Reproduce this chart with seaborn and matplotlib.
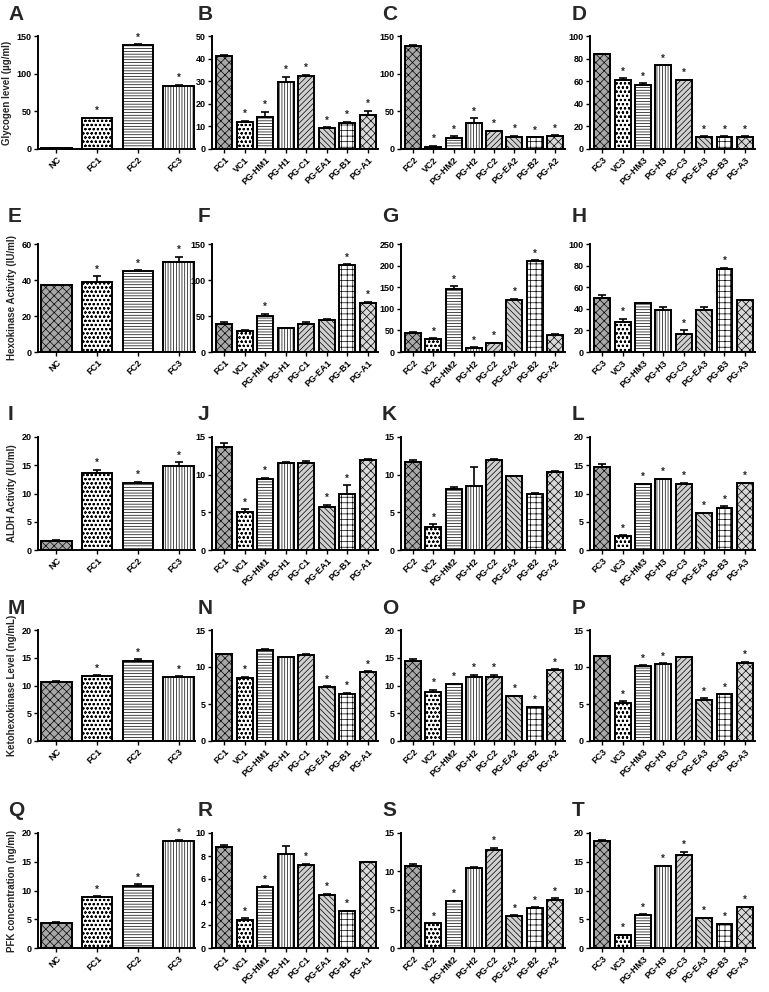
import matplotlib
matplotlib.use('Agg')
import matplotlib.pyplot as plt
import seaborn as sns

# group labels
grp_base = ['NC', 'FC1', 'FC2', 'FC3']
grp_1 = ['FC1', 'VC1', 'PG-HM1', 'PG-H1', 'PG-C1', 'PG-EA1', 'PG-B1', 'PG-A1']
grp_2 = ['FC2', 'VC2', 'PG-HM2', 'PG-H2', 'PG-C2', 'PG-EA2', 'PG-B2', 'PG-A2']
grp_3 = ['FC3', 'VC3', 'PG-HM3', 'PG-H3', 'PG-C3', 'PG-EA3', 'PG-B3', 'PG-A3']

# glycogen
a_val = [1.5, 41, 138, 84];  a_err = [0.3, 0.8, 0.8, 1];  a_sig = [0, 1, 1, 1]
b_val = [41, 12, 14, 29.5, 32.5, 9.5, 11.5, 15]
b_err = [0.5, 0.5, 2.5, 2.5, 0.3, 0.2, 0.5, 2]
b_sig = [0, 1, 1, 1, 1, 1, 1, 1]
c_val = [137, 3, 15, 34, 24, 16, 15.5, 17.5]
c_err = [0.5, 1, 2, 7, 0.5, 1.5, 0.3, 1]
c_sig = [0, 1, 1, 1, 1, 1, 1, 1]
d_val = [84, 61, 57, 74, 61, 11, 11, 11]
d_err = [0.5, 1.5, 1, 0.3, 0.5, 0.2, 0.2, 0.2]
d_sig = [0, 1, 1, 1, 1, 1, 1, 1]

# hexokinase
e_val = [37, 39, 45, 50];  e_err = [0.3, 3, 0.3, 3];  e_sig = [0, 1, 1, 1]
f_val = [39, 29, 50, 33, 39, 45, 121, 68]
f_err = [3, 2, 3, 0.3, 3, 0.3, 1, 1.5]
f_sig = [0, 0, 1, 0, 0, 0, 1, 1]
g_val = [45, 29, 145, 10, 21, 121, 211, 39]
g_err = [0.5, 3, 7, 0.5, 0.5, 2, 2, 3]
g_sig = [0, 1, 1, 1, 1, 1, 1, 0]
h_val = [50, 28, 45, 39, 17, 39, 77, 48]
h_err = [3, 3, 0.3, 3, 3, 3, 1, 0.5]
h_sig = [0, 1, 0, 0, 1, 0, 1, 0]

# ALDH
i_val = [1.6, 13.7, 11.8, 14.8];  i_err = [0.1, 0.5, 0.3, 0.7];  i_sig = [0, 1, 1, 1]
j_val = [13.7, 5.1, 9.4, 11.6, 11.6, 5.7, 7.5, 11.9]
j_err = [0.5, 0.3, 0.2, 0.05, 0.2, 0.3, 1.1, 0.2]
j_sig = [0, 1, 1, 0, 0, 1, 1, 0]
k_val = [11.7, 3.0, 8.1, 8.5, 11.9, 9.8, 7.5, 10.3]
k_err = [0.3, 0.4, 0.2, 2.5, 0.2, 0.05, 0.05, 0.2]
k_sig = [0, 1, 0, 0, 0, 0, 0, 0]
l_val = [14.7, 2.5, 11.6, 12.5, 11.7, 6.5, 7.5, 11.8]
l_err = [0.6, 0.1, 0.1, 0.1, 0.2, 0.1, 0.2, 0.1]
l_sig = [0, 1, 1, 1, 1, 1, 1, 1]

# ketohexokinase
m_val = [10.6, 11.8, 14.5, 11.6];  m_err = [0.2, 0.05, 0.2, 0.05];  m_sig = [0, 1, 1, 1]
n_val = [11.7, 8.5, 12.3, 11.3, 11.6, 7.3, 6.4, 9.3]
n_err = [0.05, 0.2, 0.2, 0.05, 0.2, 0.1, 0.1, 0.1]
n_sig = [0, 1, 0, 0, 0, 1, 1, 1]
o_val = [14.5, 8.9, 10.3, 11.6, 11.6, 8.1, 6.1, 12.8]
o_err = [0.2, 0.3, 0.05, 0.3, 0.3, 0.05, 0.05, 0.1]
o_sig = [0, 1, 1, 1, 1, 1, 1, 1]
p_val = [11.5, 5.1, 10.2, 10.4, 11.3, 5.6, 6.3, 10.6]
p_err = [0.05, 0.3, 0.05, 0.1, 0.05, 0.2, 0.05, 0.1]
p_sig = [0, 1, 1, 1, 0, 1, 1, 1]

# PFK
q_val = [4.4, 8.8, 10.8, 18.6];  q_err = [0.1, 0.2, 0.3, 0.2];  q_sig = [0, 1, 1, 1]
r_val = [8.8, 2.4, 5.3, 8.2, 7.2, 4.6, 3.2, 7.5]
r_err = [0.2, 0.2, 0.05, 0.7, 0.1, 0.1, 0.05, 0.02]
r_sig = [0, 1, 1, 0, 1, 1, 1, 0]
s_val = [10.7, 3.2, 6.1, 10.4, 12.8, 4.2, 5.2, 6.3]
s_err = [0.3, 0.05, 0.05, 0.2, 0.3, 0.05, 0.1, 0.2]
s_sig = [0, 1, 1, 0, 1, 1, 1, 1]
t_val = [18.6, 2.2, 5.8, 14.2, 16.2, 5.2, 4.2, 7.1]
t_err = [0.1, 0.05, 0.05, 0.05, 0.5, 0.05, 0.05, 0.05]
t_sig = [0, 1, 1, 1, 1, 1, 1, 1]

y_labels = ['Glycogen level (\u00b5g/ml)', 'Hexokinase Activity (IU/ml)',
            'ALDH Activity (IU/ml)', 'Ketohexokinase Level (ng/mL)',
            'PFK concentration (ng/ml)']

panels = [
    ('A', grp_base, a_val, a_err, a_sig, 150, 50), ('B', grp_1, b_val, b_err, b_sig, 50, 10),
    ('C', grp_2, c_val, c_err, c_sig, 150, 50), ('D', grp_3, d_val, d_err, d_sig, 100, 20),
    ('E', grp_base, e_val, e_err, e_sig, 60, 20), ('F', grp_1, f_val, f_err, f_sig, 150, 50),
    ('G', grp_2, g_val, g_err, g_sig, 250, 50), ('H', grp_3, h_val, h_err, h_sig, 100, 20),
    ('I', grp_base, i_val, i_err, i_sig, 20, 5), ('J', grp_1, j_val, j_err, j_sig, 15, 5),
    ('K', grp_2, k_val, k_err, k_sig, 15, 5), ('L', grp_3, l_val, l_err, l_sig, 20, 5),
    ('M', grp_base, m_val, m_err, m_sig, 20, 5), ('N', grp_1, n_val, n_err, n_sig, 15, 5),
    ('O', grp_2, o_val, o_err, o_sig, 20, 5), ('P', grp_3, p_val, p_err, p_sig, 15, 5),
    ('Q', grp_base, q_val, q_err, q_sig, 20, 5), ('R', grp_1, r_val, r_err, r_sig, 10, 2),
    ('S', grp_2, s_val, s_err, s_sig, 15, 5), ('T', grp_3, t_val, t_err, t_sig, 20, 5),
]

# hatch styles (face, hatch)
style_base = [('#a8a8a8', 'xxxx'), ('white', 'oooo'), ('white', '------'), ('white', '||||||')]
style_grp = [('#a8a8a8', 'xxxx'), ('white', 'oooo'), ('white', '------'), ('white', '||||||'),
             ('#d0d0d0', '//////'), ('#d0d0d0', '\\\\\\\\\\\\'), ('white', '+++'), ('#d8d8d8', 'xxxx')]

sns.set_theme(style='white')
plt.rcParams['font.family'] = ['Liberation Sans', 'DejaVu Sans']
plt.rcParams['font.weight'] = 'bold'
plt.rcParams['hatch.linewidth'] = 0.5

W, H = 769, 992
fig = plt.figure(figsize=(W / 100, H / 100), dpi=100)

col_x = [(38, 195), (212, 378), (401, 565), (590, 755)]
row_y = [(36, 149), (244, 352), (437, 550), (630, 741), (833, 948)]
letter_x = [8, 198, 382, 572]
letter_y = [14, 217, 415, 608, 810]

for idx, (letter, cats, vals, errs, sigs, ymax, ystep) in enumerate(panels):
    row, col = divmod(idx, 4)
    x0, x1 = col_x[col]
    yt, yb = row_y[row]
    ax = fig.add_axes([x0 / W, 1 - yb / H, (x1 - x0) / W, (yb - yt) / H])
    n = len(cats)
    width = 0.75 if n == 4 else 0.78
    sns.barplot(x=cats, y=vals, ax=ax, color='white', edgecolor='black',
                linewidth=1.4, width=width, errorbar=None)
    styles = style_base if n == 4 else style_grp
    for patch, (face, hatch) in zip(ax.patches, styles):
        patch.set_facecolor(face)
        patch.set_hatch(hatch)
    pos = list(range(n))
    ax.errorbar(pos, vals, yerr=[[0] * n, errs], fmt='none', ecolor='black',
                elinewidth=1.2, capsize=3, capthick=1.2)
    for x, v, e, s in zip(pos, vals, errs, sigs):
        if s:
            ax.text(x, v + e + ymax * 0.015, '*', ha='center', va='bottom', fontsize=7)
    ax.set_ylim(0, ymax)
    ax.set_yticks(range(0, ymax + 1, ystep))
    if n == 4:
        ax.set_xlim(-0.45, 3.4)
    else:
        ax.set_xlim(-0.6, 7.5)
    sns.despine(ax=ax)
    for sp in ['left', 'bottom']:
        ax.spines[sp].set_linewidth(1.4)
        ax.spines[sp].set_color('black')
    ax.tick_params(axis='both', which='both', direction='out', length=3, width=1,
                   labelsize=6.5, pad=1.5, left=True, bottom=True, colors='black')
    ax.set_xticks(pos)
    ax.set_xticklabels(cats, rotation=45, ha='right', rotation_mode='anchor')
    ax.set_xlabel('')
    if col == 0:
        ax.set_ylabel(y_labels[row], fontsize=7, fontweight='bold', labelpad=3)
    else:
        ax.set_ylabel('')
    fig.text(letter_x[col] / W, 1 - letter_y[row] / H, letter, fontsize=15,
             fontweight='bold', va='center', ha='left')

fig.savefig('out.png', dpi=100)
